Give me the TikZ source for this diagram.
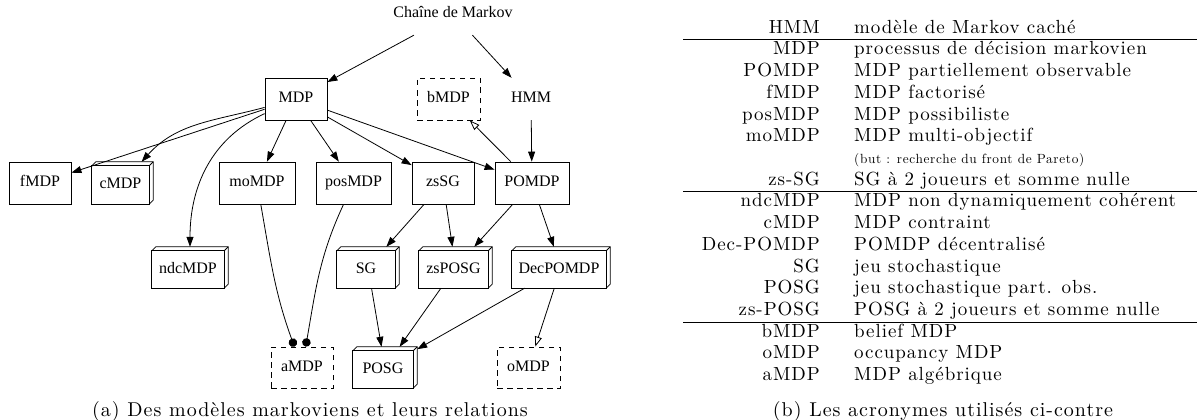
\documentclass[tikz,border=0pt]{standalone}
\usepackage{fontspec}
\newfontfamily\gvfont{Liberation Serif}
\newfontfamily\lmtab[LetterSpace=5]{lmroman10-regular.otf}
\usetikzlibrary{arrows.meta}
\newcommand\tabfnt{\lmtab\fontsize{19pt}{21.7pt}\selectfont}
\newcommand\smalltabfnt{\lmtab\fontsize{13.3pt}{15pt}\selectfont}
\newcommand\capfnt{\lmtab\fontsize{20pt}{24pt}\selectfont}
\newcommand\acrrow[3]{%
  \node[acrtxt] (a#1) at (820,{33.3+21.7*#1}) {#2};
  \node[desctxt] (d#1) at (854,{33.3+21.7*#1}) {#3};}
\begin{document}
\begin{tikzpicture}[x=1pt,y=-1pt,
  gline/.style={line width=0.8pt},
  gnode/.style={font=\gvfont\fontsize{16pt}{19pt}\selectfont, inner sep=0pt,
     minimum height=42pt, text height=11pt, text depth=3.5pt, align=center},
  gbox/.style={gnode, draw, gline},
  gdash/.style={gnode, draw, gline, dash pattern=on 5.5pt off 4.5pt},
  gplain/.style={gnode},
  g3d/.style={gnode, minimum height=41pt},
  arr/.style={gline, -{Triangle[length=10pt,width=7pt]}},
  oarr/.style={gline, -{Triangle[open,length=10pt,width=7pt]}},
  dotarr/.style={gline, -{Circle[length=8.5pt]}},
  acrtxt/.style={anchor=base east, inner sep=0pt, font=\tabfnt},
  desctxt/.style={anchor=base west, inner sep=0pt, font=\tabfnt},
  captxt/.style={anchor=base, inner sep=0pt, font=\capfnt},
  hrule/.style={line width=0.8pt}]
\useasboundingbox (0,0) rectangle (1197,420);

% ---------- graph nodes ----------
\node[gplain, minimum width=130pt] (chain) at (453,14) {Chaîne de Markov};
\node[gbox, minimum width=62pt] (MDP) at (296,99) {MDP};
\node[gdash, minimum width=63pt] (bMDP) at (448.5,99) {bMDP};
\node[gplain, minimum width=62pt] (HMM) at (531,99) {HMM};

\node[gbox, minimum width=62pt] (fMDP) at (40,183) {fMDP};
\node[g3d, minimum width=61pt, minimum height=42pt] (cMDP) at (122.5,183) {\hspace*{-4pt}\raisebox{-2pt}{cMDP}};
\node[gbox, minimum width=76pt] (moMDP) at (257,183) {moMDP};
\node[gbox, minimum width=75pt] (posMDP) at (353.5,183) {posMDP};
\node[gbox, minimum width=62pt] (zsSG) at (443,183) {zsSG};
\node[gbox, minimum width=74pt] (POMDP) at (532,183) {POMDP};

\node[g3d, minimum width=76pt] (ndcMDP) at (190,267.5) {\hspace*{-4pt}\raisebox{-2pt}{ndcMDP}};
\node[g3d, minimum width=62pt] (SG) at (368,267.5) {\hspace*{-4pt}\raisebox{-2pt}{SG}};
\node[g3d, minimum width=73pt] (zsPOSG) at (455.5,267.5) {\hspace*{-4pt}\raisebox{-2pt}{zsPOSG}};
\node[g3d, minimum width=98pt] (DecPOMDP) at (561,267.5) {\hspace*{-4pt}\raisebox{-2pt}{DecPOMDP}};

\node[gdash, minimum width=62pt, minimum height=41pt] (aMDP) at (302,367.5) {aMDP};
\node[g3d, minimum width=64pt] (POSG) at (385,367.5) {\hspace*{-4pt}\raisebox{-2pt}{POSG}};
\node[gdash, minimum width=63pt, minimum height=41pt] (oMDP) at (528.5,367.5) {oMDP};

% 3D boxes
\foreach \n in {cMDP,ndcMDP,SG,zsPOSG,DecPOMDP,POSG}{
  \draw[gline] (\n.south west) rectangle ([xshift=-4pt,yshift=-4pt]\n.north east);
  \draw[gline] ([yshift=-4pt]\n.north west) -- ([xshift=4pt]\n.north west) -- (\n.north east)
     -- ([yshift=4pt]\n.south east) -- ([xshift=-4pt]\n.south east);
  \draw[gline] ([xshift=-4pt,yshift=-4pt]\n.north east) -- (\n.north east);
}

% ---------- graph edges ----------
\draw[arr] (chain) -- (MDP);
\draw[arr] (chain) -- (HMM);
\draw[arr] (MDP) -- (fMDP);
\draw[arr] (MDP) to[out=195,in=48] (cMDP);
\draw[arr] (MDP) to[out=205,in=90] (ndcMDP);
\draw[arr] (MDP) -- (moMDP);
\draw[arr] (MDP) -- (posMDP);
\draw[arr] (MDP) -- (zsSG);
\draw[arr] (MDP) -- (POMDP);
\draw[oarr] (POMDP) -- (bMDP);
\draw[arr] (HMM) -- (POMDP);
\draw[arr] (zsSG) -- (SG);
\draw[arr] (zsSG) -- (zsPOSG);
\draw[arr] (POMDP) -- (zsPOSG);
\draw[arr] (POMDP) -- (DecPOMDP);
\draw[dotarr] (moMDP) to[out=-80,in=110] (aMDP);
\draw[dotarr] (posMDP) to[out=-115,in=80] (aMDP);
\draw[arr] (SG) -- (POSG);
\draw[arr] (zsPOSG) -- (POSG);
\draw[arr] (DecPOMDP) -- (POSG);
\draw[oarr] (DecPOMDP) -- (oMDP);

\node[captxt] (capa) at (310,416) {(a) Des modèles markoviens et leurs relations};

% ---------- table ----------
\acrrow{0}{HMM}{modèle de Markov caché}
\acrrow{1}{MDP}{processus de décision markovien}
\acrrow{2}{POMDP}{MDP partiellement observable}
\acrrow{3}{fMDP}{MDP factorisé}
\acrrow{4}{posMDP}{MDP possibiliste}
\acrrow{5}{moMDP}{MDP multi-objectif}
\node[desctxt, font=\smalltabfnt] (d6) at (854,{33.3+21.7*6}) {(but : recherche du front de Pareto)};
\acrrow{7}{zs-SG}{SG à 2 joueurs et somme nulle}
\acrrow{8}{ndcMDP}{MDP non dynamiquement cohérent}
\acrrow{9}{cMDP}{MDP contraint}
\acrrow{10}{Dec-POMDP}{POMDP décentralisé}
\acrrow{11}{SG}{jeu stochastique}
\acrrow{12}{POSG}{jeu stochastique part. obs.}
\acrrow{13}{zs-POSG}{POSG à 2 joueurs et somme nulle}
\acrrow{14}{bMDP}{belief MDP}
\acrrow{15}{oMDP}{occupancy MDP}
\acrrow{16}{aMDP}{MDP algébrique}
\draw[hrule] (683,39.8) -- (1197,39.8);
\draw[hrule] (683,191.7) -- (1197,191.7);
\draw[hrule] (683,321.9) -- (1197,321.9);

\node[captxt] (capb) at (943,416) {(b) Les acronymes utilisés ci-contre};
\end{tikzpicture}
\end{document}
